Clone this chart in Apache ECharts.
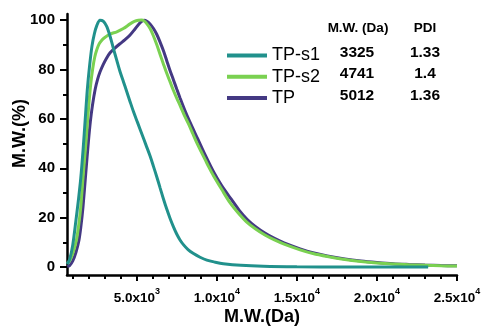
<!DOCTYPE html>
<html>
<head>
<meta charset="utf-8">
<script src="https://cdn.jsdelivr.net/npm/echarts@6/dist/echarts.min.js"></script>
<style>html,body{margin:0;padding:0;background:#fff}#c{width:486px;height:328px}</style>
</head>
<body>
<div id="c"></div>
<script>
const seriesNames = ['TP-s1', 'TP-s2', 'TP'];
const mwValues = ['3325', '4741', '5012'];
const pdiValues = ['1.33', '1.4', '1.36'];
const xTicks = [5000, 10000, 15000, 20000, 25000];
const xMinorTicks = [1000,2000,3000,4000,6000,7000,8000,9000,11000,12000,13000,14000,16000,17000,18000,19000,21000,22000,23000,24000];
const yTicks = [0, 20, 40, 60, 80, 100];
const yMinorTicks = [10, 30, 50, 70, 90];

const tpS1 = [[650,1.2],[800,3],[1000,9],[1200,19],[1350,27],[1500,36],[1650,48],[1780,60],[1910,72],[2050,81.5],[2200,89.5],[2350,94.5],[2500,97.8],[2700,100],[2900,99.6],[3120,97.5],[3330,93.5],[3540,88.5],[3750,83.7],[3960,79],[4170,75],[4375,71],[4580,67],[4790,63],[5050,58.5],[5310,54],[5570,49.5],[5830,45],[6040,40.8],[6250,36.5],[6460,32],[6660,27.7],[6870,23.5],[7080,19.7],[7290,16.3],[7500,13.3],[7700,11],[7910,9.1],[8200,7.1],[8540,5.5],[8950,4],[9375,2.8],[9900,2],[10400,1.4],[11500,0.7],[12900,0.3],[15000,0.1],[18000,0.05],[23200,0]];
const tpS2 = [[650,1.5],[800,2.5],[1000,5.5],[1230,11],[1380,17.5],[1500,24.4],[1660,37.9],[1830,51],[1910,58],[2000,65.5],[2120,74],[2250,80.5],[2370,85],[2500,88],[2640,90.3],[2800,91.8],[2960,92.8],[3330,94.4],[3750,95.3],[4160,96.6],[4580,98.5],[4850,99.5],[5100,100],[5300,100.1],[5450,99.7],[5630,98.5],[5830,96.6],[6040,93.6],[6250,90],[6460,86],[6660,82.3],[6870,78.5],[7080,75],[7290,71.5],[7500,68.3],[7700,65.5],[8000,61],[8230,58],[8500,54],[8750,50.3],[9000,47],[9270,43.5],[9500,40.5],[9790,37],[10300,31.5],[10830,26],[11350,21.8],[11870,18.2],[12400,15.5],[13000,13],[13600,11],[14200,9.3],[15200,7],[16000,5.5],[16900,4.3],[18000,3.1],[19000,2.3],[20000,1.7],[21000,1.25],[22000,0.95],[23000,0.75],[24000,0.55],[25000,0.4]];
const tp = [[650,0.3],[800,0.6],[1000,2.5],[1200,6],[1390,11],[1500,16],[1640,24.4],[1810,37.9],[1980,51],[2100,59],[2230,65.5],[2400,72],[2550,76],[2700,79],[2900,82],[3100,84.5],[3330,86.8],[3650,88.8],[3960,90.5],[4250,92],[4580,94],[4900,96.5],[5210,99],[5450,100],[5650,99.5],[5850,98.3],[6040,96.6],[6250,94.2],[6460,91],[6670,87.5],[6875,83.5],[7080,79.5],[7290,75.8],[7500,72],[7700,68.5],[8000,63.5],[8300,59],[8800,52],[9300,45],[9800,38.5],[10300,33],[10900,27.5],[11400,23],[11900,19.3],[12400,16.5],[13000,13.8],[13600,11.6],[14200,9.8],[15200,7.4],[16000,5.8],[16900,4.5],[18000,3.3],[19000,2.5],[20000,1.9],[21000,1.4],[22000,1.1],[23000,0.85],[24000,0.65],[25000,0.5]];

const colors = {'TP-s1': '#21918c', 'TP-s2': '#7ad151', 'TP': '#443983'};
const FONT = 'Liberation Sans, Arial, sans-serif';

const chart = echarts.init(document.getElementById('c'), null, {renderer: 'canvas'});

function xFmt(v) {
  const e = Math.floor(Math.log10(v));
  const m = (v / Math.pow(10, e)).toFixed(1);
  return '{b|' + m + 'x10}{s|' + e + '}';
}

const xMin = 640, xMax = 25000, yMin = -3.2, yMax = 102.5;
const axisLine = {show: true, onZero: false, lineStyle: {color: '#000', width: 2.5}};

const seriesData = {'TP-s1': tpS1, 'TP-s2': tpS2, 'TP': tp};
const drawOrder = ['TP', 'TP-s2', 'TP-s1'];

const tableText = [];
const rowsY = [52.7, 74, 96];
tableText.push({type: 'text', style: {text: 'M.W. (Da)', x: 358, y: 28, align: 'center', verticalAlign: 'middle', font: 'bold 13.5px ' + FONT, fill: '#000'}});
tableText.push({type: 'text', style: {text: 'PDI', x: 425, y: 28, align: 'center', verticalAlign: 'middle', font: 'bold 13.5px ' + FONT, fill: '#000'}});
for (let i = 0; i < seriesNames.length; i++) {
  tableText.push({type: 'text', style: {text: mwValues[i], x: 357, y: rowsY[i], align: 'center', verticalAlign: 'middle', font: 'bold 15.5px ' + FONT, fill: '#000'}});
  tableText.push({type: 'text', style: {text: pdiValues[i], x: 425, y: rowsY[i], align: 'center', verticalAlign: 'middle', font: 'bold 15.5px ' + FONT, fill: '#000'}});
}

chart.setOption({
  animation: false,
  backgroundColor: '#fff',
  grid: {left: 67, right: 29, top: 14, bottom: 53, containLabel: false, outerBoundsMode: 'none'},
  legend: {
    data: seriesNames,
    orient: 'vertical',
    left: 222, top: 41.5,
    itemWidth: 40, itemHeight: 4, itemGap: 3.2,
    icon: 'rect',
    textStyle: {fontFamily: FONT, fontSize: 18, color: '#000'},
    selectedMode: false
  },
  xAxis: [{
    type: 'value', min: xMin, max: xMax,
    name: 'M.W.(Da)', nameLocation: 'middle', nameGap: 33, nameMoveOverlap: false,
    nameTextStyle: {fontFamily: FONT, fontSize: 18, fontWeight: 'bold', color: '#000'},
    axisLine: axisLine,
    axisTick: {show: true, customValues: xTicks, length: 6, lineStyle: {color: '#000', width: 2}},
    axisLabel: {customValues: xTicks, formatter: xFmt, margin: 12, color: '#000',
      rich: {b: {fontFamily: FONT, fontSize: 13.5, fontWeight: 'bold', color: '#000', lineHeight: 18, verticalAlign: 'bottom'},
             s: {fontFamily: FONT, fontSize: 9, fontWeight: 'bold', color: '#000', lineHeight: 8, verticalAlign: 'top'}}},
    splitLine: {show: false}
  }, {
    type: 'value', min: xMin, max: xMax, position: 'bottom',
    axisLine: {show: false, onZero: false},
    axisTick: {show: true, customValues: xMinorTicks, length: 4, lineStyle: {color: '#000', width: 2}},
    axisLabel: {show: false}, splitLine: {show: false}
  }],
  yAxis: [{
    type: 'value', min: yMin, max: yMax,
    name: 'M.W.(%)', nameLocation: 'middle', nameGap: 38, nameMoveOverlap: false,
    nameTextStyle: {fontFamily: FONT, fontSize: 18, fontWeight: 'bold', color: '#000', padding: [0, 0, 0, 22]},
    axisLine: axisLine,
    axisTick: {show: true, customValues: yTicks, length: 7, lineStyle: {color: '#000', width: 2}},
    axisLabel: {customValues: yTicks, margin: 12, fontFamily: FONT, fontSize: 15, fontWeight: 'bold', color: '#000'},
    splitLine: {show: false}
  }, {
    type: 'value', min: yMin, max: yMax, position: 'left',
    axisLine: {show: false, onZero: false},
    axisTick: {show: true, customValues: yMinorTicks, length: 4, lineStyle: {color: '#000', width: 2}},
    axisLabel: {show: false}, splitLine: {show: false}
  }],
  series: drawOrder.map(n => ({
    name: n, type: 'line', data: seriesData[n], smooth: 0.3, showSymbol: false, symbol: 'none',
    color: colors[n],
    lineStyle: {width: 3, color: colors[n]},
    clip: true
  })),
  graphic: tableText
});
</script>
</body>
</html>
